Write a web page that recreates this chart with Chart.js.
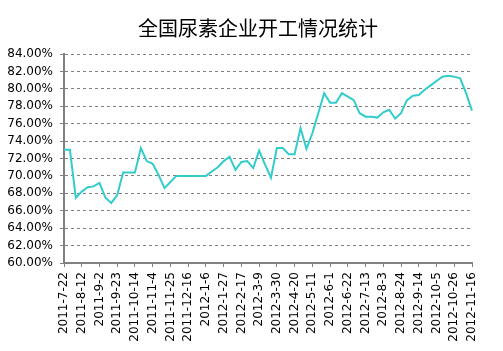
<!DOCTYPE html>
<html>
<head>
<meta charset="utf-8">
<script src="https://cdn.jsdelivr.net/npm/chart.js@4"></script>
<style>
  html, body { margin: 0; padding: 0; background: #fff; }
  #wrap { width: 503px; height: 351px; }
</style>
</head>
<body>
<div id="wrap"><canvas id="rateChart"></canvas></div>
<script>
const weeks = [
  '2011-7-22', '2011-7-29', '2011-8-5', '2011-8-12', '2011-8-19', '2011-8-26',
  '2011-9-2', '2011-9-9', '2011-9-16', '2011-9-23', '2011-9-30', '2011-10-7',
  '2011-10-14', '2011-10-21', '2011-10-28', '2011-11-4', '2011-11-11', '2011-11-18',
  '2011-11-25', '2011-12-2', '2011-12-9', '2011-12-16', '2011-12-23', '2011-12-30',
  '2012-1-6', '2012-1-13', '2012-1-20', '2012-1-27', '2012-2-3', '2012-2-10',
  '2012-2-17', '2012-2-24', '2012-3-2', '2012-3-9', '2012-3-16', '2012-3-23',
  '2012-3-30', '2012-4-6', '2012-4-13', '2012-4-20', '2012-4-27', '2012-5-4',
  '2012-5-11', '2012-5-18', '2012-5-25', '2012-6-1', '2012-6-8', '2012-6-15',
  '2012-6-22', '2012-6-29', '2012-7-6', '2012-7-13', '2012-7-20', '2012-7-27',
  '2012-8-3', '2012-8-10', '2012-8-17', '2012-8-24', '2012-8-31', '2012-9-7',
  '2012-9-14', '2012-9-21', '2012-9-28', '2012-10-5', '2012-10-12', '2012-10-19',
  '2012-10-26', '2012-11-2', '2012-11-9', '2012-11-16'
];

// 开工率 (%)
const rates = [
  73.0, 73.0, 67.5, 68.2, 68.7, 68.8, 69.2, 67.5, 66.9, 67.8,
  70.4, 70.4, 70.4, 73.2, 71.7, 71.4, 70.1, 68.6, 69.3, 70.0,
  70.0, 70.0, 70.0, 70.0, 70.0, 70.5, 71.0, 71.7, 72.2, 70.7,
  71.6, 71.7, 70.9, 72.9, 71.3, 69.8, 73.2, 73.2, 72.5, 72.5,
  75.5, 73.1, 74.9, 77.2, 79.5, 78.4, 78.4, 79.5, 79.1, 78.7,
  77.2, 76.8, 76.8, 76.7, 77.3, 77.6, 76.6, 77.2, 78.7, 79.2,
  79.3, 79.9, 80.4, 80.9, 81.4, 81.5, 81.4, 81.2, 79.5, 77.5
];

const yMin = 60;
const yMax = 84;
const yStep = 2;
const labelEvery = 3;
const titleText = '全国尿素企业开工情况统计';

const axisGray = '#808080';
const tickFont = { family: 'DejaVu Sans', size: 12 };

// title sits a bit right of the plot centre, like the original
const titlePlugin = {
  id: 'titleText',
  afterDraw(chart) {
    const ctx = chart.ctx;
    ctx.save();
    ctx.fillStyle = '#000';
    ctx.font = '20px "Noto Sans CJK SC"';
    ctx.textAlign = 'center';
    ctx.textBaseline = 'middle';
    ctx.fillText(titleText, 258, 28);
    ctx.restore();
  }
};

const rateChart = document.getElementById('rateChart');

const rateChart_1 = new Chart(rateChart, {
  type: 'line',
  data: {
    labels: weeks,
    datasets: [
      {
        label: '开工率',
        data: rates,
        borderColor: '#33CCCC',
        backgroundColor: '#33CCCC',
        borderWidth: 2,
        tension: 0,
      }
    ],
  },
  options: {
    responsive: true,
    maintainAspectRatio: false,
    animation: false,
    layout: {
      padding: { left: 0, right: 31, top: 54, bottom: 0 }
    },
    elements: {
      point: {
        radius: 0
      }
    },
    scales: {
      x: {
        offset: false,
        grid: {
          drawOnChartArea: false,
          tickLength: 4,
          tickWidth: 1,
          tickColor: (ctx) => (ctx.index % labelEvery === 0 ? axisGray : 'rgba(0,0,0,0)'),
        },
        border: {
          color: axisGray,
          width: 2,
        },
        ticks: {
          autoSkip: false,
          minRotation: 90,
          maxRotation: 90,
          padding: 5,
          color: '#000',
          font: tickFont,
          callback: function (value, index) {
            return index % labelEvery === 0 ? weeks[index] : '';
          }
        },
        afterFit: (scale) => { scale.height = 88; }
      },
      y: {
        min: yMin,
        max: yMax,
        grid: {
          color: axisGray,
          lineWidth: 1,
          tickLength: 4,
          tickColor: axisGray,
          tickBorderDash: [],
        },
        border: {
          color: axisGray,
          width: 2,
          dash: [3, 3],
        },
        ticks: {
          stepSize: yStep,
          padding: 7,
          color: '#000',
          font: tickFont,
          callback: (v) => v.toFixed(2) + '%'
        },
        afterFit: (scale) => { scale.width = 64; }
      }
    },
    plugins: {
      legend: {
        display: false
      },
      tooltip: {
        enabled: false
      },
      title: {
        display: false
      }
    }
  },
  plugins: [titlePlugin],
});
</script>
</body>
</html>
